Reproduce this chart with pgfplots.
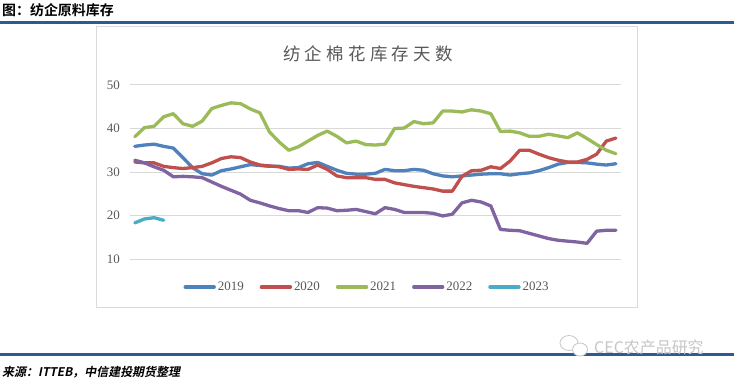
\documentclass[border=0pt]{standalone}
\usepackage{pgfplots}
\pgfplotsset{compat=1.18}
\usepackage{fontspec}
\setmainfont{Liberation Serif}
\newfontfamily\cjk{Noto Sans CJK SC}
\newfontfamily\cjkbold{Noto Sans CJK SC Bold}
\newfontfamily\cjktitle{Noto Sans CJK SC}[LetterSpace=25]
\newfontfamily\cjkfoot{Noto Sans CJK SC Bold}[FakeSlant=0.2]
\definecolor{c19}{HTML}{4F81BD}
\definecolor{c20}{HTML}{C0504D}
\definecolor{c21}{HTML}{9BBB59}
\definecolor{c22}{HTML}{8064A2}
\definecolor{c23}{HTML}{4BACC6}
\definecolor{hdr}{HTML}{2E5A92}
\definecolor{gridc}{HTML}{D9D9D9}
\definecolor{txt}{HTML}{595959}

\pgfplotstableread{
i y
1 35.9
2 36.2
3 36.4
4 35.9
5 35.5
6 33.3
7 31.0
8 29.6
9 29.3
10 30.3
11 30.7
12 31.2
13 31.7
14 31.5
15 31.3
16 31.3
17 30.9
18 31.0
19 31.9
20 32.2
21 31.3
22 30.4
23 29.7
24 29.5
25 29.5
26 29.7
27 30.6
28 30.3
29 30.3
30 30.6
31 30.4
32 29.6
33 29.1
34 28.9
35 29.1
36 29.3
37 29.5
38 29.6
39 29.6
40 29.3
41 29.6
42 29.8
43 30.3
44 31.0
45 31.8
46 32.2
47 32.2
48 32.1
49 31.8
50 31.6
51 31.9
}\tabA

\pgfplotstableread{
i y
1 32.3
2 32.1
3 32.1
4 31.3
5 31.0
6 30.8
7 31.0
8 31.3
9 32.1
10 33.1
11 33.5
12 33.3
13 32.3
14 31.6
15 31.4
16 31.2
17 30.6
18 30.7
19 30.6
20 31.6
21 30.6
22 29.1
23 28.7
24 28.7
25 28.7
26 28.3
27 28.3
28 27.5
29 27.1
30 26.7
31 26.4
32 26.1
33 25.6
34 25.6
35 29.0
36 30.3
37 30.4
38 31.2
39 30.8
40 32.5
41 35.0
42 35.0
43 34.1
44 33.3
45 32.7
46 32.3
47 32.3
48 32.9
49 34.1
50 37.1
51 37.8
}\tabB

\pgfplotstableread{
i y
1 38.1
2 40.2
3 40.5
4 42.7
5 43.4
6 41.1
7 40.5
8 41.7
9 44.6
10 45.3
11 45.9
12 45.7
13 44.5
14 43.6
15 39.2
16 36.9
17 35.0
18 35.8
19 37.1
20 38.4
21 39.4
22 38.2
23 36.7
24 37.1
25 36.3
26 36.2
27 36.4
28 40.0
29 40.1
30 41.6
31 41.1
32 41.3
33 44.0
34 44.0
35 43.8
36 44.3
37 44.0
38 43.4
39 39.3
40 39.4
41 39.0
42 38.2
43 38.2
44 38.7
45 38.3
46 37.9
47 39.0
48 37.7
49 36.3
50 35.0
51 34.2
}\tabC

\pgfplotstableread{
i y
1 32.7
2 32.1
3 31.2
4 30.4
5 28.9
6 29.0
7 28.9
8 28.7
9 27.7
10 26.7
11 25.8
12 24.9
13 23.5
14 22.9
15 22.2
16 21.6
17 21.1
18 21.1
19 20.7
20 21.8
21 21.7
22 21.1
23 21.2
24 21.4
25 20.9
26 20.4
27 21.8
28 21.4
29 20.7
30 20.7
31 20.7
32 20.5
33 19.9
34 20.3
35 22.9
36 23.5
37 23.1
38 22.2
39 16.8
40 16.6
41 16.5
42 15.9
43 15.3
44 14.7
45 14.3
46 14.1
47 13.9
48 13.6
49 16.4
50 16.6
51 16.6
}\tabD

\pgfplotstableread{
i y
1 18.3
2 19.2
3 19.5
4 18.9
}\tabE

\begin{document}
\begin{tikzpicture}[x=1bp,y=1bp]
\fill[white, use as bounding box] (0,0) rectangle (734,381);
\node[anchor=west, inner sep=0, font=\cjkbold\fontsize{14}{15}\selectfont] at (2,371) {图：纺企原料库存};
\fill[hdr] (0,357) rectangle (734,359.5);
\draw[gridc, line width=1bp] (96.7,73.3) rectangle (637.3,354.3);
\node[font=\cjktitle\fontsize{17.5}{18}\selectfont, text=txt, inner sep=0] at (368,327.5) {纺企棉花库存天数};
\begin{axis}[
  at={(130bp,122bp)}, anchor=south west,
  scale only axis, width=490.7bp, height=174bp,
  xmin=0.5, xmax=51.5, ymin=10, ymax=50,
  ytick={10,20,30,40,50}, xtick=\empty,
  ymajorgrids, grid style={gridc, line width=1bp},
  axis line style={draw=none}, tick style={draw=none}, major tick length=0pt,
  /pgf/number format/assume math mode=true,
  yticklabel style={font=\fontsize{13}{13}\selectfont, text=txt, inner sep=0pt, xshift=-10bp},
  every axis plot/.append style={line width=3.3bp, line join=round, line cap=round},
  legend columns=5,
  legend style={at={(0.483,-0.161)}, anchor=center, draw=none, fill=none,
    font=\fontsize{13}{13}\selectfont, text=txt, column sep=0pt,
    /tikz/every even column/.append style={column sep=14bp}},
  legend image code/.code={\draw[#1, line width=3.3bp, line cap=round] (0bp,0bp) -- (29bp,0bp);},
]
\addplot[c19] table[x=i, y=y] {\tabA};
\addlegendentry{2019}
\addplot[c20] table[x=i, y=y] {\tabB};
\addlegendentry{2020}
\addplot[c21] table[x=i, y=y] {\tabC};
\addlegendentry{2021}
\addplot[c22] table[x=i, y=y] {\tabD};
\addlegendentry{2022}
\addplot[c23] table[x=i, y=y] {\tabE};
\addlegendentry{2023}
\end{axis}
\fill[hdr] (0,25.3) rectangle (734,27.7);
\node[anchor=west, inner sep=0, font=\cjkfoot\fontsize{12}{13}\selectfont] at (2,9) {来源：ITTEB，中信建投期货整理};
\draw[gray!45, line width=0.8bp] (569,38) ellipse (9 and 7.5);
\draw[gray!45, line width=0.8bp, fill=white] (580,31.5) ellipse (7.5 and 6.5);
\node[anchor=west, inner sep=0, font=\cjk\fontsize{16}{17}\selectfont, text=gray!45] at (594,34) {CEC农产品研究};
\end{tikzpicture}
\end{document}
